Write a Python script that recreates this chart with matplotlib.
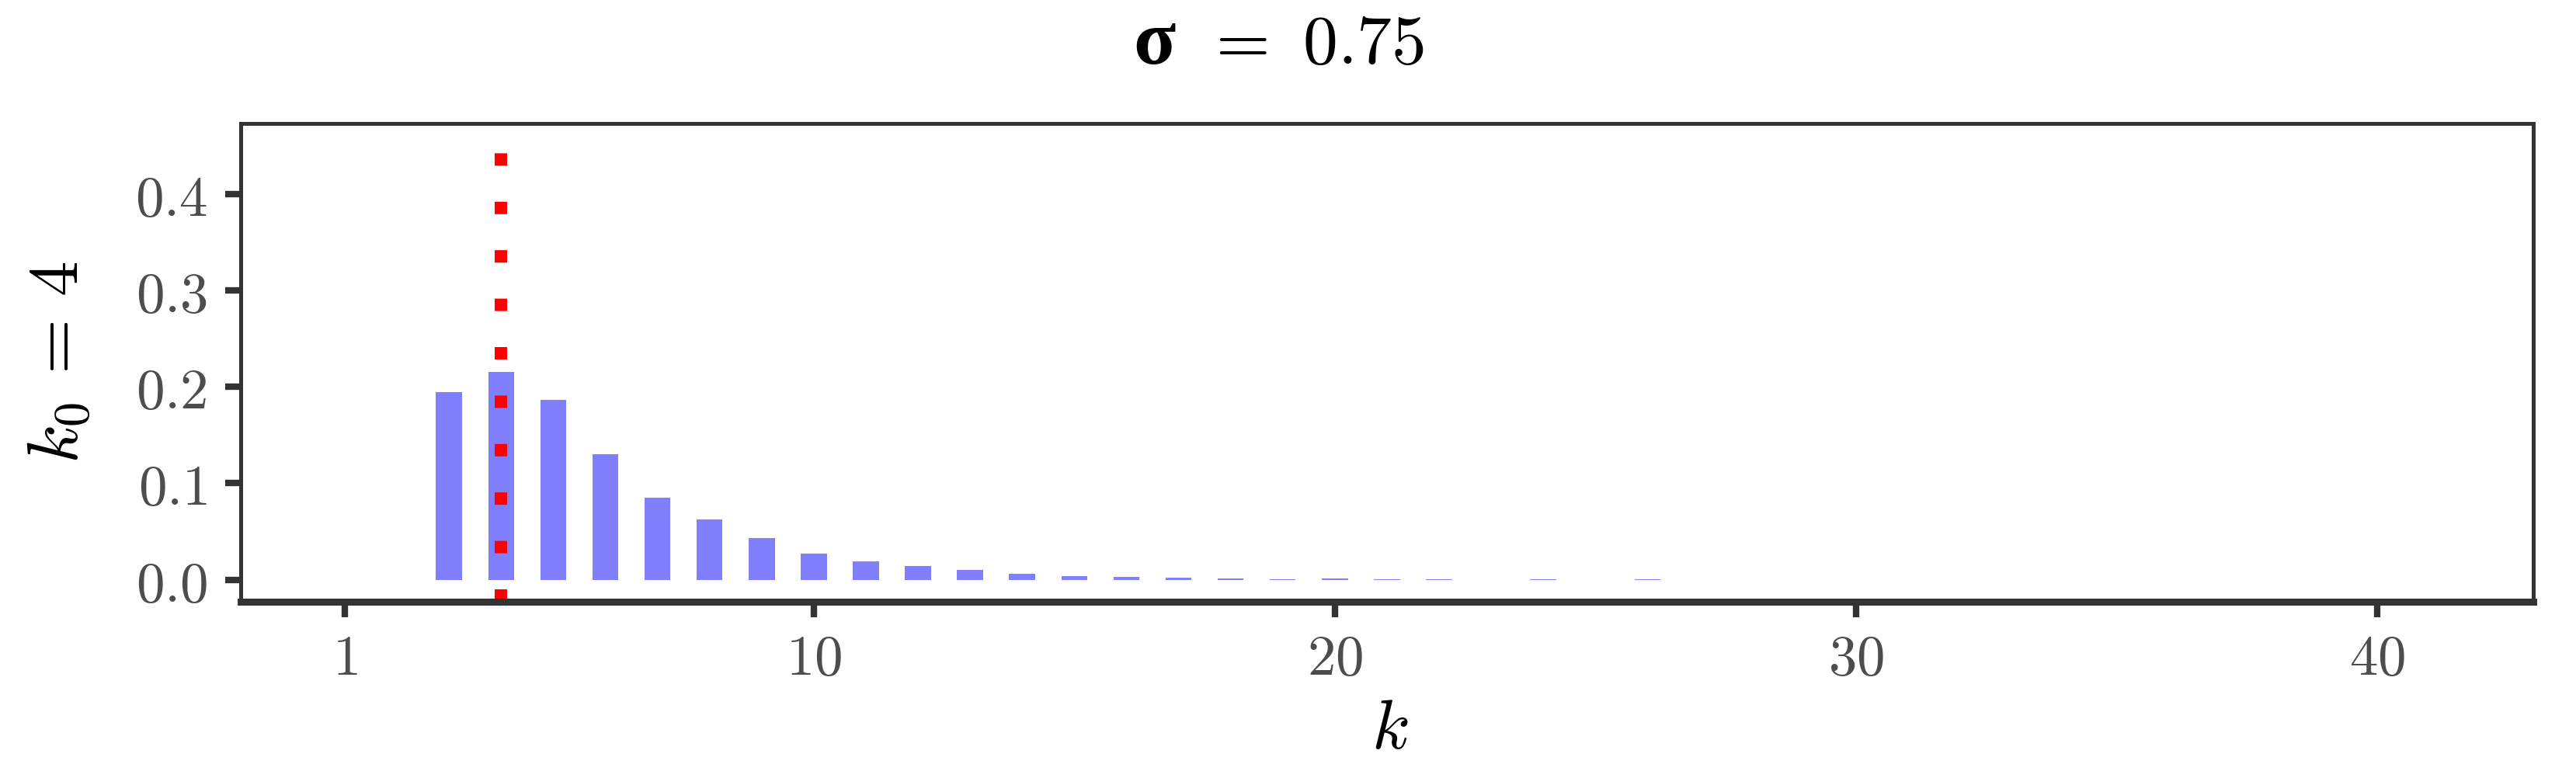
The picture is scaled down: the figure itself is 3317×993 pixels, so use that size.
import matplotlib
matplotlib.use("Agg")
import matplotlib.pyplot as plt
import numpy as np

plt.rcParams['mathtext.fontset'] = 'cm'

# ---- data ----
k_values = [3, 4, 5, 6, 7, 8, 9, 10, 11, 12, 13, 14, 15, 16, 17, 18, 19, 20,
            21, 22, 23, 24, 25, 26]
probabilities = [0.1944, 0.2154, 0.1864, 0.1301, 0.0850, 0.0625, 0.0432, 0.0271,
                 0.0191, 0.0142, 0.0102, 0.0062, 0.0038, 0.0030, 0.0022, 0.0014,
                 0.0006, 0.0014, 0.0006, 0.0006, 0.0, 0.0006, 0.0, 0.0006]
k0 = 4
sigma_label = "0.75"
x_ticks = [1, 10, 20, 30, 40]
y_ticks = [0.0, 0.1, 0.2, 0.3, 0.4]
y_ticklabels = ["0.0", "0.1", "0.2", "0.3", "0.4"]

W, H = 3317, 993
fig = plt.figure(figsize=(W / 300, H / 300), dpi=300)
ax = fig.add_axes([309.8 / W, 1 - 774.7 / H, (3262 - 309.8) / W, (774.7 - 159.4) / H])

ax.bar(k_values, probabilities, width=0.5, color='#8080FF', linewidth=0, zorder=1)
ax.axvline(k0, color='#FF0000', lw=3.84, linestyle=(0, (1, 2.9)),
           dash_capstyle='butt', zorder=2)

ax.set_xlim(-1, 43)
ax.set_ylim(-0.0225, 0.4725)

ax.set_xticks(x_ticks)
ax.set_xticklabels(['$%d$' % t for t in x_ticks])
ax.set_yticks(y_ticks)
ax.set_yticklabels(['$%s$' % t for t in y_ticklabels])

ax.tick_params(direction='out', length=4.8, width=2.0, color='#333333',
               labelcolor='#4D4D4D', labelsize=17.5)
ax.tick_params(axis='x', pad=4.3)
ax.tick_params(axis='y', pad=5.5)

for side in ['left', 'right', 'top']:
    ax.spines[side].set_linewidth(1.2)
    ax.spines[side].set_color('#333333')
ax.spines['bottom'].set_linewidth(2.16)
ax.spines['bottom'].set_color('#333333')

# labels
fig.text(74 / W, 1 - 467 / H, r'$k_0\, =\, 4$', rotation=90, ha='center',
         va='center', fontsize=22, color='black')
fig.text(1790 / W, 1 - 964 / H, r'$k$', ha='center', va='baseline',
         fontsize=21.5, color='black')

# title
fig.text(1486 / W, 1 - 82 / H, 'σ', family='Liberation Serif', weight='bold',
         fontsize=24, ha='center', va='baseline', color='black')
fig.text(1550 / W, 1 - 82 / H, r'$=\ %s$' % sigma_label, ha='left',
         va='baseline', fontsize=21.5, color='black')

fig.savefig('out.png', dpi=300, facecolor='white')
